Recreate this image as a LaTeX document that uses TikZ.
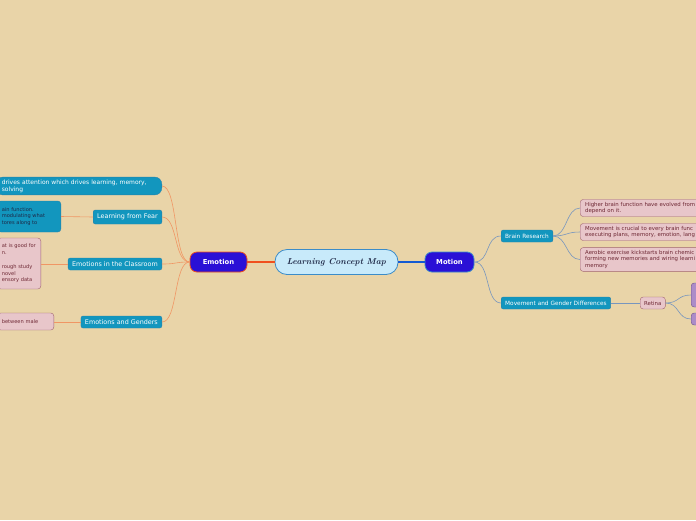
\documentclass[tikz,border=0pt]{standalone}
\usepackage{fontspec}
\setsansfont{DejaVu Sans}
\usetikzlibrary{positioning}
\definecolor{mapbg}{RGB}{233,212,168}
\definecolor{mapteal}{RGB}{18,150,190}
\definecolor{maptealdk}{RGB}{40,130,170}
\definecolor{mappink}{RGB}{232,198,202}
\definecolor{mappinkdk}{RGB}{160,100,112}
\definecolor{mapmaroon}{RGB}{110,40,52}
\definecolor{mapnavy}{RGB}{30,40,70}
\definecolor{mapviolet}{RGB}{42,16,214}
\definecolor{mapsky}{RGB}{200,234,250}
\definecolor{mapskydk}{RGB}{60,140,200}
\definecolor{maporange}{RGB}{240,80,30}
\definecolor{maporangelt}{RGB}{240,150,100}
\definecolor{mapblue}{RGB}{20,90,210}
\definecolor{mapbluelt}{RGB}{120,150,190}
\definecolor{mappurple}{RGB}{172,140,200}
\definecolor{mappurpledk}{RGB}{110,80,140}
\tikzset{
  rootnode/.style={draw=mapskydk, fill=mapsky, rounded corners=12pt, line width=0.8pt,
                   font=\itshape\bfseries\fontsize{8.6}{10}\selectfont, text=mapnavy,
                   minimum width=123pt, minimum height=25pt},
  topic/.style={draw=#1, fill=mapviolet, rounded corners=7pt, line width=0.8pt,
                font=\sffamily\bfseries\fontsize{6.8}{8}\selectfont, text=white,
                minimum height=20pt},
  branch/.style={draw=maptealdk, fill=mapteal, rounded corners=2pt, text=white,
                 font=\sffamily\fontsize{#1}{7}\selectfont,
                 minimum height=12pt, inner xsep=4pt},
  branch/.default=5.8,
  tealnote/.style={draw=maptealdk, fill=mapteal, rounded corners=7pt, text=#1,
                   font=\sffamily\fontsize{6}{7}\selectfont, align=left,
                   inner xsep=6pt, inner ysep=2.5pt},
  note/.style={draw=mappinkdk, fill=mappink, rounded corners=3pt, text=mapmaroon,
               font=\sffamily\fontsize{#1}{6.8}\selectfont, align=left,
               inner xsep=4pt, inner ysep=2.5pt},
  note/.default=5.4,
  leafbox/.style={draw=mappurpledk, fill=mappurple, rounded corners=3pt,
                  minimum width=30pt},
  emoline/.style={draw=maporangelt, line width=0.6pt},
  motline/.style={draw=mapbluelt, line width=0.6pt},
}
\begin{document}
\begin{tikzpicture}[x=1pt, y=-1pt]
  \useasboundingbox (0,0) rectangle (696,520);
  \fill[mapbg] (0,0) rectangle (696,520);
  \clip (0,0) rectangle (696,520);

  % Centre and main topics
  \node[rootnode] (root) at (336.5,262) {Learning Concept Map};
  \node[topic=maporange, minimum width=57pt] (emotion) at (218.5,262) {Emotion};
  \node[topic=mapskydk, minimum width=49pt] (motion) at (449.5,262) {Motion};
  \draw[maporange, line width=1.2pt] (root.west) -- (emotion.east);
  \draw[mapblue, line width=1.2pt] (root.east) -- (motion.west);

  % Emotion branches
  \node[tealnote=white, text width=154pt, anchor=east] (emoattn) at (162,186)
       {drives attention which drives learning, memory,\\solving};
  \node[branch=6.4, minimum height=14pt, anchor=east] (fear) at (162,217) {Learning from Fear};
  \node[branch=6.4, anchor=east] (classroom) at (162,264) {Emotions in the Classroom};
  \node[branch=6.4, anchor=east] (genders) at (162,322) {Emotions and Genders};

  \node[tealnote=mapnavy, font=\sffamily\fontsize{5.1}{6.8}\selectfont, rounded corners=3pt,
        inner xsep=4pt, text width=55pt, minimum height=31pt, anchor=east] (fearnote) at (61,216.5)
       {ain function.\\modulating what\\tores along to};
  \node[note=5.1, text width=35pt, minimum height=51pt, anchor=east] (classnote) at (41,263.5)
       {at is good for\\n.\\[6.8pt]rough study\\novel\\ensory data};
  \node[note=5.1, text width=48pt, minimum height=17pt, anchor=east] (gendernote) at (54,321.5)
       {between male};

  \foreach \b in {emoattn, fear, classroom, genders}
    \draw[emoline] (emotion.west) .. controls +(-16pt,0) and +(16pt,0) .. (\b.east);
  \draw[emoline] (fear.west) -- (fearnote.east);
  \draw[emoline] (classroom.west) -- (classnote.east |- classroom.west);
  \draw[emoline] (genders.west) -- (gendernote.east |- genders.west);

  % Motion branches
  \node[branch, anchor=west] (brain) at (501,236) {Brain Research};
  \node[branch, anchor=west] (movegender) at (501,303) {Movement and Gender Differences};

  \node[note, text width=150pt, anchor=west, inner xsep=5pt] (brain1) at (580,208)
       {Higher brain function have evolved from\\depend on it.};
  \node[note, text width=150pt, anchor=west, inner xsep=5pt] (brain2) at (580,232)
       {Movement is crucial to every brain func\\executing plans, memory, emotion, lang};
  \node[note, text width=150pt, anchor=west, inner xsep=5pt] (brain3) at (580,259.5)
       {Aerobic exercise kickstarts brain chemic\\forming new memories and wiring learni\\memory};
  \node[note, anchor=west, minimum height=12pt] (retina) at (640,303) {Retina};
  \node[leafbox, minimum height=24pt, anchor=west] (retina1) at (691,295) {};
  \node[leafbox, minimum height=12pt, anchor=west] (retina2) at (691,319) {};

  \foreach \b in {brain, movegender}
    \draw[motline] (motion.east) .. controls +(16pt,0) and +(-16pt,0) .. (\b.west);
  \foreach \b in {brain1, brain2, brain3}
    \draw[motline] (brain.east) .. controls +(14pt,0) and +(-14pt,0) .. (\b.west);
  \draw[motline] (movegender.east) -- (retina.west);
  \foreach \b in {retina1, retina2}
    \draw[motline] (retina.east) .. controls +(14pt,0) and +(-14pt,0) .. (\b.west);
\end{tikzpicture}
\end{document}
